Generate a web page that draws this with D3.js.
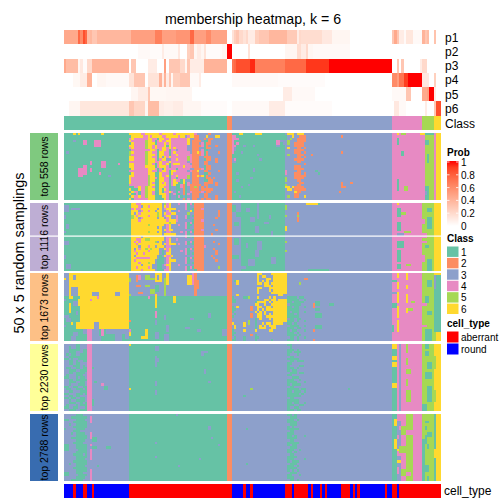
<!DOCTYPE html>
<html><head><meta charset="utf-8">
<script src="https://cdn.jsdelivr.net/npm/d3@7"></script>
<style>html,body{margin:0;padding:0;background:#fff}svg{display:block}text{font-family:"Liberation Sans",Arimo,Helvetica,sans-serif;fill:#000}</style>
</head><body><div id="c"></div>
<script>
const classColors = ["#66C2A5","#FC8D62","#8DA0CB","#E78AC3","#A6D854","#FFD92F"];
const classLabels = ["1","2","3","4","5","6"];
const stripColors = ["#7FC97F","#BEAED4","#FDC086","#FFFF99","#386CB0"];
const stripLabels = ["top 558 rows","top 1116 rows","top 1673 rows","top 2230 rows","top 2788 rows"];
const probTicks = [0,0.2,0.4,0.6,0.8,1];
const cellNames = ["aberrant","round"];
const cellColors = ["#FF0000","#0000FF"];
const probNames = ["p1","p2","p3","p4","p5","p6"];

// membership probabilities, as [number of columns, value]
const p1 = [[6,.45],[1,.75],[1,.6],[1,.85],[1,.75],[1,.35],[1,.38],[2,.3],[15,.38],[10,.5],[3,.65],[6,.5],[6,.55],[2,.75],[5,.5],[2,.6],[7,.48],[2,0],[1,.15],[1,.25],[1,.3],[2,.2],[1,.15],[1,.2],[1,.1],[2,.1],[2,.25],[4,.3],[8,.38],[4,.28],[1,.1],[1,.2],[9,.18],[4,.12],[8,.05],[18,0],[1,.3],[1,.45],[1,.3],[2,.1],[1,.03],[3,.13],[4,.03],[1,.4],[1,.3],[1,.35],[2,0],[1,.32],[2,0]];
const p2 = [[32,0],[5,.03],[5,.02],[1,.1],[6,.03],[1,.12],[3,0],[1,.25],[2,.3],[1,.05],[2,.1],[1,.05],[1,.15],[7,.02],[2,.05],[2,1],[7,0],[1,.15],[15,0],[5,.05],[2,.18],[2,.1],[1,.2],[2,.05],[16,.03],[39,0]];
const p3 = [[1,.45],[5,.35],[1,.05],[1,.12],[2,.02],[2,.2],[16,.4],[1,0],[2,.3],[5,0],[4,.1],[3,0],[1,.5],[1,0],[5,.3],[2,.2],[1,.05],[1,.3],[6,.1],[10,.4],[2,0],[1,.7],[1,.75],[6,.85],[2,.95],[13,.65],[9,.75],[10,.92],[27,1],[2,0],[1,.3],[1,0],[1,.3],[7,0],[1,.1],[2,.2],[6,0]];
const p4 = [[4,0],[3,.04],[3,.1],[2,.4],[2,0],[4,.05],[10,.03],[2,.15],[5,.3],[1,0],[5,.15],[1,.4],[1,.1],[1,.4],[1,.1],[1,.3],[1,.05],[3,.25],[4,.3],[4,.03],[1,.1],[11,0],[2,0],[20,.03],[20,.02],[29,0],[2,.6],[1,.5],[2,.7],[2,.9],[6,1],[3,.12],[2,0],[1,.25],[2,0]];
const p5 = [[29,0],[3,.05],[4,.1],[1,.3],[7,.04],[11,.05],[15,0],[24,0],[4,.1],[10,.03],[33,0],[6,.03],[2,.3],[5,0],[2,.45],[1,.5],[2,1],[1,.1],[2,0]];
const p6 = [[2,0],[5,.05],[21,.13],[2,.3],[5,.22],[1,.05],[5,.35],[2,.1],[4,.08],[4,.1],[8,.05],[11,.02],[2,0],[16,.03],[7,.1],[20,.02],[26,0],[1,0],[2,.12],[3,.03],[7,0],[1,0],[1,.1],[3,0],[1,.3],[2,.85]];

const classRuns = [[70,1],[2,2],[69,3],[13,4],[5,5],[3,6]];
const cellTypeRuns = [[4,1],[1,0],[3,1],[2,0],[2,1],[1,0],[15,1],[44,0],[5,1],[1,0],[2,1],[1,0],[14,1],[3,0],[1,1],[6,0],[1,1],[1,0],[3,1],[1,0],[1,1],[1,0],[6,1],[4,0],[1,1],[1,0],[1,1],[1,0],[11,1],[1,0],[2,1],[2,0],[1,1],[18,0]];

// top 558 rows
const block1Base = [[28,1],[42,3],[2,2],[23,1],[46,3],[14,4],[4,5],[1,4],[2,6]];
const block1Mid = ["6666644666 6664666664 6666666643 3333233333 33","1666664464 6666446666 6466346622 3336333663 33","4644444466 4416644644 4444463322 3323223333 33","6444444566 4146446644 4444463222 2311233333 33","1644444566 6144464644 4444463222 3412233333 33","6644444566 4644461644 4444433222 2412333233 33","4644444566 4644664646 4444433222 3312233333 33","1444444446 6414664144 3444433222 3411333333 33","5644444566 4416644146 4444443226 2412333323 33","5444444566 6416644144 6444444222 2412333333 33","6644444566 4416364644 4444454222 3322233333 33","6644444566 6414663344 6444454222 3312233233 33","4444444566 6446444644 4444434222 3322333233 33","6644444566 4146446146 6644443222 3322333333 33","6644444666 6146664144 4446444222 3312233333 33","1644444466 6414164444 1444443322 2412233333 33","4444444466 4414664166 4444434226 3322333323 33","1644444466 6116444164 4444443222 3311233333 33","6644444456 6116446144 6444453226 2612333333 33","6444444456 6416644144 1444453222 3312232333 33","6444444456 6116644146 4416333222 3311223333 33","6444444456 4116464146 6116143222 3322223233 33","4444444456 6116664146 1142142222 2322333233 33","1144644566 4116644133 1142132252 3232333333 33","6111644566 6116164133 1132132222 3222223333 33","1644144566 4116144643 1432134222 2432233333 33","6114144566 4116664134 1132143222 3322333333 33","1644644566 6111664133 1413133222 3322333233 33","6144444466 6111164133 1132143223 3232233233 33"];
const block1Right = ["1116611111 6661111111 1113666366 6333","4411111111 1111111111 1111336332 2233","4441111111 1111111111 1111353322 2233","4111111111 1111111114 4333533322 2233","4141111111 1111111114 4133533222 2333","4411131113 1111111113 3113333222 2333","4311111111 1111111111 1113633322 3233","4311111111 1111111111 1113333222 2333","4111311111 1111111111 1113333222 3233","1111111111 1311111111 1113533322 2333","1111111111 1111111111 1113333322 3233","3411111111 1131111111 1113333222 2333","3311111111 1111111111 1113333322 3333","1111111111 1111111111 1113333333 3233","1111111111 1111111111 1113333222 3333","1111111113 1111111111 1113333222 2333","1111111113 1111111111 1114333322 3333","1131111111 1111111111 1114333222 3233","1111111111 1111111111 1113333222 2233","1111111131 1111111111 1115333222 2333","1131111111 1111111111 1115333322 3333","1111111111 1111111111 1113333332 2333","1111111311 1111111111 1115333322 3333","1111311111 1111111111 1116636222 2333","1111111111 1111111111 1113663222 2233","1311111111 1111111111 1113333622 3333","1111111111 1111111111 1113333223 3333","1113111111 1111111111 1113533223 3633","1111111111 1111111111 1113333333 3333"];
const block1Marks = [[0,0,4,4,6],[0,0,6,6,6],[0,0,16,16,6],[3,4,8,9,4],[3,5,13,15,4],[3,3,4,4,3],[8,8,1,1,3],[12,13,11,11,4],[12,14,16,17,4],[15,18,6,7,4],[14,17,8,9,4],[15,16,11,11,4],[17,17,15,15,4],[13,13,23,23,4],[18,18,19,19,3],[1,1,119,119,2],[8,8,119,119,2],[21,23,119,119,2],[21,21,123,123,2],[23,23,120,120,2],[25,25,118,118,2],[9,9,106,106,2],[16,16,108,108,1],[17,17,109,109,1],[2,4,143,143,1],[20,24,143,143,1],[0,0,143,143,6],[8,9,145,145,1],[23,24,146,147,5],[0,0,145,146,5],[3,4,155,156,1],[9,12,156,156,1],[23,28,155,156,1],[0,0,153,154,6],[0,0,155,158,1],[25,26,155,155,3]];

// top 1116 rows
const block2Base = [[28,1],[42,3],[2,2],[4,3],[19,1],[46,3],[13,4],[5,5],[3,6]];
const block2Mid = ["1664466666 6666354633 3433414122 2233333333 33","1666436646 6666364633 3333413322 2233333333 33","1464466666 6636346666 3333413122 2433333333 33","1666346646 6366334633 3433336122 2233333323 33","1636466666 6656364466 3333353322 2233333323 33","1564666646 6656346633 4333413122 2233333323 33","1566346666 6636334633 4333413322 2233333233 33","1666466666 6666364666 4333333122 2433333333 33","1664666666 6666366566 3333414122 2233333333 33","1666666656 6666634633 3433411322 2233332333 33","1666466666 6636334633 3333413322 2233333333 33","1666366666 6666364663 3333333122 2433333233 33","1664466656 6636334433 3343414122 2233333333 33","1666666666 6666366666 3333413322 2233323333 33","1666636666 6666634433 3333413122 2233333333 33","1664466556 6666634633 4333333322 2233333333 33","1646466666 6536334633 3333414122 2233332333 33","1664666666 6666364666 3433413122 2233333323 33","1666366646 6366634433 3333333322 2243333333 33","1636466565 6663364633 3333414122 2233332333 33","1646666646 6663134633 3343413322 2233333233 33","1664664666 6663136633 3333413122 2233333233 33","1636666666 6631364463 3333333322 2233323333 33","1664444446 6631134633 3333414122 2233332333 33","1646666666 6311134666 3333413322 2233333233 33","1666466656 6311134633 3333413122 2233333333 33","1666636666 3311346633 3433333322 2233333333 33","1664666646 3311334633 3333414122 2233333353 33","1666646666 6311144633 3333413312 2233333333 33"];
const block2Marks = [[8,12,30,32,6],[6,8,41,42,6],[1,3,0,1,3],[2,2,3,6,3],[5,6,0,0,3],[9,10,1,1,3],[16,17,0,1,3],[22,23,0,0,3],[26,27,1,2,3],[12,12,0,0,3],[1,3,72,73,1],[4,5,74,75,1],[8,9,73,74,1],[15,17,73,74,1],[22,23,72,74,1],[2,3,78,79,3],[6,7,80,81,3],[0,6,83,83,3],[10,12,82,83,3],[16,19,83,84,3],[5,6,88,88,3],[12,13,89,89,3],[20,22,82,83,3],[24,26,79,81,3],[23,25,89,90,3],[17,18,78,78,3],[8,8,86,87,3],[27,27,76,77,3],[1,2,95,95,5],[5,5,95,95,5],[10,11,95,95,6],[16,16,95,95,5],[20,20,95,95,5],[4,4,100,100,2],[5,5,100,100,5],[6,7,100,100,2],[0,0,109,109,1],[28,28,105,113,1],[0,0,104,108,6],[2,5,143,144,1],[0,0,143,143,6],[8,11,143,144,1],[13,13,143,145,3],[16,18,143,145,1],[20,24,143,144,1],[26,27,143,144,1],[4,4,145,146,5],[12,12,146,148,5],[26,26,147,148,5],[6,10,156,157,1],[7,8,154,154,4],[13,14,154,155,4],[16,16,154,155,4],[18,18,155,156,1],[22,24,154,154,4],[24,28,156,157,1],[2,3,156,157,1]];

// top 1673 rows
const block3Base = [[70,1],[2,2],[69,3],[13,4],[5,5],[3,1]];
const block3Right = ["3333333333 3663333666 6666","3333333333 3636633366 6666","3333333333 3633366366 6666","3163333333 3636363366 6666","3363333333 3663663666 6666","3333333333 3333666366 6666","3333333333 3663336636 6666","3333333333 3633336366 6666","3333333333 3633333663 6663","3363333333 3333333333 6633","1333311533 3633336363 3333","1133333333 3133663663 6666","1133333333 1666636366 6666","3333333333 6633633666 6666","1363333323 3663366366 6666","1133333323 3636366666 6666","1333333333 6363633366 6666","3133333323 3663636366 6666","1333333323 3663366666 6666","3333333333 1363336366 6666","3333333533 1333333366 6666","6333363533 1336366366 6633","3633363333 1363636663 3333","3633333333 1366633663 3333","1333363333 6333336633 3333","1133333333 3333333333 3333","1333333323 1333333333 3333","3133313333 1133333333 3333","1133313333 1333333133 3333"];
const block3Mid = ["1111311333","1111133133","1131111333","3111113333","1131133133","1111133333","1311133133","1113133333","1111133333","3113113333","1113133133","1131333333","3111133133","1113113333","1311333133","1113133333","1111313333","3113133133","1113133333"];
const block3Marks = [[0,7,90,95,6],[8,8,91,95,6],[12,20,90,95,6],[0,23,7,27,6],[0,9,2,6,6],[0,9,0,1,3],[2,2,0,0,6],[1,2,4,4,3],[6,9,3,5,3],[8,9,12,14,3],[8,9,22,23,3],[10,10,14,14,4],[11,11,11,11,4],[12,13,4,5,3],[13,16,2,2,6],[11,13,6,6,6],[16,17,5,5,3],[18,18,0,1,3],[19,20,1,2,3],[21,21,3,3,6],[10,10,2,3,6],[21,23,5,6,6],[11,11,0,0,3],[22,22,0,0,3],[24,28,10,11,4],[24,28,12,14,3],[21,23,13,14,3],[24,26,16,16,4],[24,25,18,27,3],[26,28,22,24,3],[26,27,26,27,3],[25,26,4,5,3],[27,28,3,4,3],[24,25,8,9,3],[27,28,15,15,3],[0,9,28,69,3],[1,3,31,31,2],[1,2,32,32,4],[5,5,31,32,2],[8,8,32,33,2],[1,2,35,36,5],[5,5,35,36,5],[2,2,37,38,5],[7,8,37,38,5],[0,3,39,41,6],[1,2,40,40,3],[9,12,39,39,6],[5,7,39,40,1],[2,9,43,43,5],[0,4,44,44,6],[9,9,28,28,5],[2,3,28,28,5],[1,4,53,54,6],[0,4,55,55,4],[0,9,56,56,2],[3,6,57,57,2],[10,12,47,47,6],[10,10,36,36,4],[16,18,39,39,4],[12,14,39,39,6],[24,27,35,35,6],[27,27,33,34,6],[25,26,28,28,6],[24,24,28,28,4],[20,20,28,28,2],[18,19,43,43,3],[22,24,44,44,3],[26,28,43,44,3],[20,21,39,39,3],[25,27,39,40,3],[23,23,52,53,3],[19,19,54,55,3],[24,24,57,58,3],[17,18,62,62,3],[24,26,68,69,3],[12,13,108,109,1],[15,15,108,109,1],[17,18,108,110,1],[13,13,114,115,1],[13,14,107,107,2],[24,24,107,107,2],[28,28,107,107,2],[4,4,101,101,5],[2,2,103,104,2],[22,23,108,110,1],[0,1,143,143,6],[4,6,143,143,6],[8,12,143,143,6],[14,18,143,143,6],[20,24,143,143,6],[0,2,147,147,6],[5,6,147,147,6],[9,12,147,147,6],[15,16,147,147,6],[13,14,141,142,1],[3,3,141,142,1],[8,8,141,142,3],[12,12,149,150,5],[15,15,148,149,5],[22,24,141,141,1],[3,5,156,157,1],[10,12,155,156,1],[16,17,156,157,1],[24,28,155,157,1],[22,22,154,155,4],[13,13,154,155,4],[0,0,159,161,6],[1,6,159,159,3],[25,28,159,161,6],[25,28,159,159,5]];

// top 2230 rows
const block4Base = [[10,3],[2,4],[16,3],[42,1],[2,2],[69,3],[13,4],[5,5],[3,6]];
const block4Left = ["3333311333","3313311333","3311111311","3311133311","3131133111","3311111111","1131331111","3311313311","3311311333","3333111313","3113311311","3311133111","3311311113","3133311133","1133313113","3311311111","3311133113","3313331113","1133113311","3113311131","3311333111","1133311131","3311311333","1131133113","3313311113","3311133131","3133313111","1133113331","3311133111"];
const block4Mid = ["1133333333","3133333333","1113133333","1131113333","1333133333","3113333333","1111133333","3113111333","1133333333","1333311333","1113133333","1311333333","3111311333","1133333333","3311133333","1113313333","1111333133","1311113333","3113333333","1111131133","1131113133","1111131333","1111113333","3113333333","1111133333","1131133133","1113311333","1331133333","1113113333"];
const block4Marks = [[0,28,141,142,1],[5,6,141,142,6],[8,9,141,142,6],[17,18,141,142,6],[0,1,141,142,6],[0,28,144,144,3],[0,3,147,147,5],[6,8,147,147,5],[11,12,147,148,5],[15,17,147,147,5],[20,24,147,148,5],[3,4,155,156,1],[8,10,156,157,1],[12,14,155,157,1],[18,21,156,157,1],[26,28,154,155,1],[22,24,156,157,1],[0,1,155,156,1],[5,10,159,159,5],[20,24,159,159,5],[1,2,39,40,3],[5,9,39,39,3],[6,7,40,40,3],[16,17,39,39,3],[20,21,39,39,3],[3,3,60,61,3],[3,4,59,59,3],[11,12,60,60,3],[16,16,62,62,3],[0,0,28,28,6],[19,19,28,28,6],[16,16,13,13,1],[18,19,17,18,1],[17,17,16,16,4],[24,26,12,12,1],[10,10,12,12,1],[19,19,80,80,5],[22,22,77,77,1],[19,19,122,122,1]];

// top 2788 rows
const block5Base = [[28,3],[42,1],[2,2],[69,3],[2,1],[2,3],[2,4],[3,5],[4,4],[1,1],[2,5],[2,5],[1,1],[2,6]];
const block5Left = ["3333311133","3331111111","1133311113","3333111111","3313311111","3333111111","1333311113","3333111333","3331311113","3333311111","3331111111","3333311113","3333111133","1133311111","1133311111","1133331111","3333311111","3333111131","3333311111","3333311113","3333111111","3313311111","3333311113","3333111111","3333311111","1133311133","1133331111","3333311113","3331111133"];
const block5Mid = ["1131333333","3111333333","1113133333","1111333333","3111333333","1313333333","1111133333","3113333333","1113333333","1131333133","1111333333","3113333333","1111133333","1311333333","3111333333","1113313333","1131333333","3113333333","1111333333","1113333133","1311133333","3111333333","1113133333","1111333333","1313133333","3111333333","1133313333","1113333333","3113133333"];
const block5Marks = [[1,3,11,11,4],[8,10,11,11,4],[13,13,11,11,4],[15,19,11,11,4],[24,28,11,11,4],[10,11,12,13,1],[14,14,12,13,1],[14,14,18,19,1],[22,22,14,14,1],[0,0,48,48,3],[5,5,62,62,3],[6,6,62,62,3],[12,12,39,39,3],[18,18,39,39,3],[19,19,58,58,3],[22,22,49,49,3],[10,10,63,63,3],[13,13,66,66,3],[6,6,78,78,1],[21,21,78,78,1],[0,0,28,28,1],[2,4,142,142,6],[11,14,142,142,6],[0,2,143,144,4],[5,6,144,144,4],[9,10,143,143,4],[16,17,143,144,4],[23,25,143,143,4],[15,15,143,144,6],[20,20,143,144,6],[14,16,144,146,5],[5,8,145,146,5],[24,26,145,146,5],[7,8,147,149,4],[25,26,147,148,4],[3,3,155,156,1],[5,6,155,155,1],[9,12,155,155,1],[13,14,156,156,1],[22,24,155,156,1],[27,28,156,156,1],[15,18,159,159,6],[8,9,156,157,1],[0,10,154,154,5]];

const width = 504, height = 504;
const numCols = 162, numRows = 29;
const expand = runs => runs.flatMap(([n, v]) => Array(n).fill(v));
const overlay = (m, startCol, startRow, rows) => rows.forEach((s, i) => {
  [...s.replace(/ /g, "")].forEach((ch, j) => { m[startRow + i][startCol + j] = +ch; });
});
function buildBlock(base, layers, marks) {
  const line = expand(base);
  const m = d3.range(numRows).map(() => line.slice());
  const ordered = marks.filter(k => k[2] >= 28 && k[3] <= 69 && k[0] === 0 && k[1] === 9);
  ordered.forEach(([r0,r1,c0,c1,v]) => { for (let r=r0;r<=r1;r++) for (let c=c0;c<=c1;c++) m[r][c]=v; });
  layers.forEach(([c, r, rows]) => overlay(m, c, r, rows));
  marks.filter(k => !ordered.includes(k)).forEach(([r0,r1,c0,c1,v]) => { for (let r=r0;r<=r1;r++) for (let c=c0;c<=c1;c++) m[r][c]=v; });
  return m;
}
const blockData = [
  buildBlock(block1Base, [[28,0,block1Mid],[72,0,block1Right]], block1Marks),
  buildBlock(block2Base, [[28,0,block2Mid]], block2Marks),
  buildBlock(block3Base, [[72,0,block3Right],[96,10,block3Mid]], block3Marks),
  buildBlock(block4Base, [[0,0,block4Left],[96,0,block4Mid]], block4Marks),
  buildBlock(block5Base, [[0,0,block5Left],[96,0,block5Mid]], block5Marks)
];
const blockBands = [[133,200],[203,271],[273,341],[344,411],[414,481]];

const svg = d3.select("#c").append("svg").attr("width", width).attr("height", height);
const x = d3.scaleBand().domain(d3.range(numCols)).range([64, 441]);
const probColor = d3.scaleLinear().domain([0,1]).range(["#FFFFFF","#FF0000"]).interpolate(d3.interpolateLab);
const classColor = d3.scaleOrdinal().domain([1,2,3,4,5,6]).range(classColors);
const crisp = g => g.attr("shape-rendering","crispEdges");

// draws one line of columns, merging neighbours that share a colour
function drawLine(g, values, colorOf, y0, h) {
  const spans = [];
  values.forEach((v, i) => {
    const last = spans[spans.length - 1];
    if (last && last.v === v) last.end = i; else spans.push({ v, start: i, end: i });
  });
  g.selectAll(null).data(spans).join("rect")
    .attr("x", d => x(d.start)).attr("width", d => x(d.end) + x.bandwidth() - x(d.start))
    .attr("y", y0).attr("height", h).attr("fill", d => colorOf(d.v));
}

svg.append("text").attr("x", 253).attr("y", 24).attr("text-anchor","middle").style("font-size","14.2px").text("membership heatmap, k = 6");

const probRows = [p1,p2,p3,p4,p5,p6];
const yProb = d3.scaleBand().domain(probNames).range([30,115.5]);
const gProb = svg.append("g").call(crisp);
probRows.forEach((runs, i) => drawLine(gProb, expand(runs), probColor, yProb(probNames[i]), yProb.bandwidth()));
probNames.forEach(n => svg.append("text").attr("x",445).attr("y",yProb(n)+yProb.bandwidth()/2+4.5).style("font-size","12px").text(n));

drawLine(svg.append("g").call(crisp), expand(classRuns), classColor, 116, 14);
svg.append("text").attr("x",445).attr("y",127.5).style("font-size","12px").text("Class");

blockData.forEach((m, b) => {
  const [y0, y1] = blockBands[b];
  const y = d3.scaleBand().domain(d3.range(numRows)).range([y0, y1]);
  const g = svg.append("g").call(crisp);
  m.forEach((row, r) => drawLine(g, row, classColor, y(r), y.bandwidth()));
  svg.append("rect").attr("x",30).attr("width",28).attr("y",y0).attr("height",y1-y0).attr("fill",stripColors[b]).attr("shape-rendering","crispEdges");
  svg.append("text").attr("transform",`translate(48,${(y0+y1)/2}) rotate(-90)`).attr("text-anchor","middle").style("font-size","10.5px").text(stripLabels[b]);
});
// white line splitting the second block
svg.append("rect").attr("x",30).attr("width",411).attr("y",235.5).attr("height",1.2).attr("fill","#fff");

svg.append("text").attr("transform","translate(24,253) rotate(-90)").attr("text-anchor","middle").style("font-size","14.4px").text("50 x 5 random samplings");

drawLine(svg.append("g").call(crisp), expand(cellTypeRuns), v => cellColors[v], 484, 14);
svg.append("text").attr("x",444).attr("y",495).style("font-size","12px").text("cell_type");

// legends
const legendX = 447, swatchW = 11.5;
const title = (t, y) => svg.append("text").attr("x",legendX).attr("y",y).style("font-size","10px").style("font-weight","bold").text(t);
title("Prob", 156);
const yLeg = d3.scaleLinear().domain([0,1]).range([226,162]);
const defs = svg.append("defs").append("linearGradient").attr("id","pg").attr("x1",0).attr("x2",0).attr("y1",1).attr("y2",0);
d3.range(0,1.01,0.1).forEach(t => defs.append("stop").attr("offset",t).attr("stop-color",probColor(t)));
svg.append("rect").attr("x",legendX).attr("y",yLeg(1)-1).attr("width",swatchW).attr("height",yLeg(0)-yLeg(1)+1).attr("fill","url(#pg)");
probTicks.forEach(t => {
  svg.append("path").attr("d",`M${legendX},${yLeg(t)}h2.5M${legendX+swatchW-2.5},${yLeg(t)}h2.5`).attr("stroke","#fff").attr("stroke-width",0.8);
  svg.append("text").attr("x",461).attr("y",yLeg(t)+4).style("font-size","10px").text(t);
});
title("Class", 242);
const yClass = d3.scaleBand().domain(classLabels).range([246,314.5]);
classLabels.forEach((c,i) => {
  svg.append("rect").attr("x",legendX).attr("y",yClass(c)+.5).attr("width",swatchW).attr("height",yClass.bandwidth()-1).attr("fill",classColors[i]);
  svg.append("text").attr("x",461).attr("y",yClass(c)+yClass.bandwidth()/2+4).style("font-size","10px").text(c);
});
title("cell_type", 327);
const yCell = d3.scaleBand().domain(cellNames).range([331,355]);
cellNames.forEach((c,i) => {
  svg.append("rect").attr("x",legendX).attr("y",yCell(c)+.5).attr("width",swatchW).attr("height",yCell.bandwidth()-1).attr("fill",cellColors[i]);
  svg.append("text").attr("x",461).attr("y",yCell(c)+yCell.bandwidth()/2+4).style("font-size","10px").text(c);
});
</script></body></html>
